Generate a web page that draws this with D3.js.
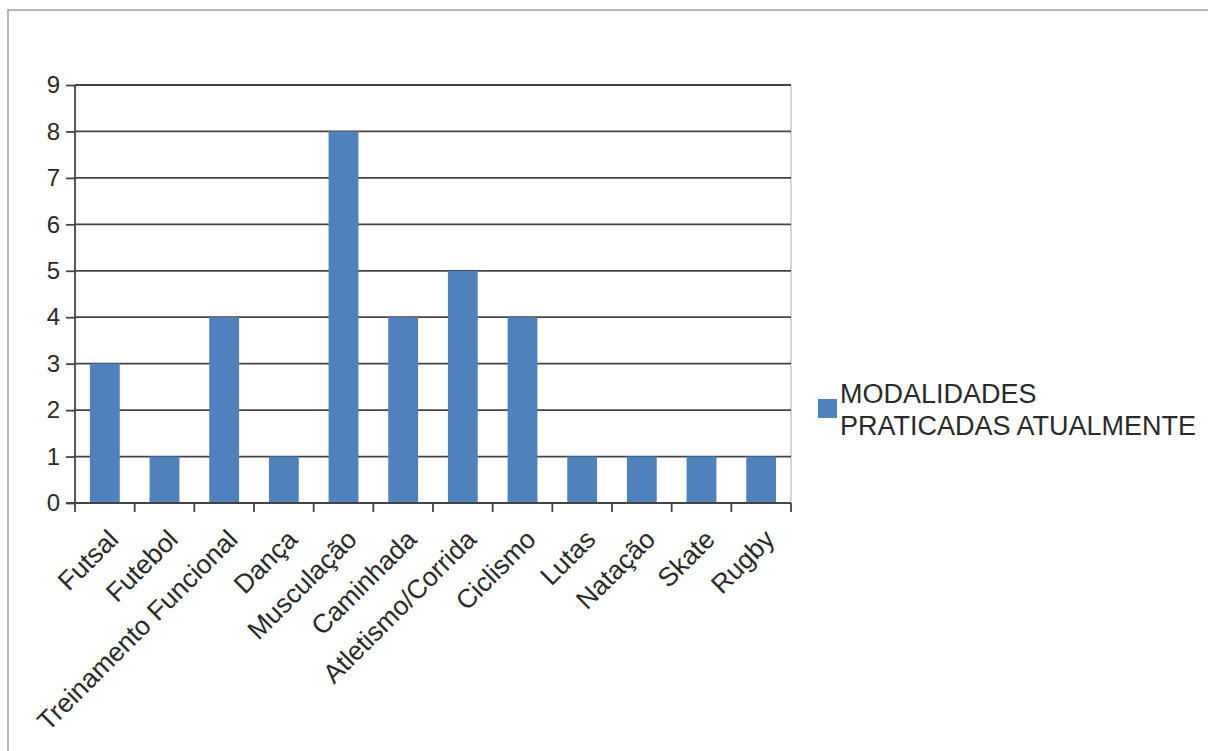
<!DOCTYPE html>
<html>
<head>
<meta charset="utf-8">
<script src="https://cdn.jsdelivr.net/npm/d3@7"></script>
<style>
  html, body { margin: 0; padding: 0; background: #fff; }
  svg { display: block; }
  text { font-family: "Liberation Sans", Arial, sans-serif; fill: #2a2a2a; }
</style>
</head>
<body>
<svg id="chart" width="1208" height="751"></svg>
<script>
const categories = ["Futsal", "Futebol", "Treinamento Funcional", "Dança", "Musculação", "Caminhada", "Atletismo/Corrida", "Ciclismo", "Lutas", "Natação", "Skate", "Rugby"];
const values = [3, 1, 4, 1, 8, 4, 5, 4, 1, 1, 1, 1];
const yTicks = [0, 1, 2, 3, 4, 5, 6, 7, 8, 9];
const seriesName = ["MODALIDADES", "PRATICADAS ATUALMENTE"];

const svg = d3.select("#chart");
const pL = 75, pR = 791, pT = 85, pB = 503;

// outer frame
svg.append("rect").attr("x", 8).attr("y", 10).attr("width", 1260).attr("height", 800)
  .attr("fill", "none").attr("stroke", "#a0a0a0").attr("stroke-width", 1.5);

const x = d3.scaleBand().domain(categories).range([pL, pR]).paddingInner(0.5).paddingOuter(0.25);
const y = d3.scaleLinear().domain([0, 9]).range([pB, pT]);
const xb = d3.scaleLinear().domain([0, categories.length]).range([pL, pR]);

// right plot border
svg.append("line").attr("x1", pR).attr("x2", pR).attr("y1", pT).attr("y2", pB)
  .attr("stroke", "#c8c8c8").attr("stroke-width", 1.5);

// gridlines
svg.append("g").selectAll("line").data(yTicks.filter(d => d > 0)).join("line")
  .attr("x1", pL).attr("x2", pR)
  .attr("y1", d => y(d)).attr("y2", d => y(d))
  .attr("stroke", "#444").attr("stroke-width", 1.8);

// bars
svg.append("g").selectAll("rect").data(categories).join("rect")
  .attr("x", d => x(d)).attr("width", x.bandwidth())
  .attr("y", (d, i) => y(values[i])).attr("height", (d, i) => y(0) - y(values[i]))
  .attr("fill", "#4f81bd");

// y axis
const yAxis = d3.axisLeft(y).tickValues(yTicks).tickSize(9).tickPadding(6).tickFormat(d3.format("d"));
const gy = svg.append("g").attr("transform", `translate(${pL},0)`).call(yAxis);
gy.select(".domain").attr("stroke", "#444").attr("stroke-width", 1.8).attr("d", `M0,${pT}V${pB}`);
gy.selectAll(".tick line").attr("stroke", "#444").attr("stroke-width", 1.8);
gy.selectAll(".tick text").attr("font-size", 24).attr("fill", "#2a2a2a")
  .attr("font-family", "'Liberation Sans', Arial, sans-serif");

// x axis baseline and boundary ticks
const gx = svg.append("g");
gx.append("line").attr("x1", pL - 9).attr("x2", pR).attr("y1", pB).attr("y2", pB)
  .attr("stroke", "#444").attr("stroke-width", 1.8);
gx.selectAll("line.tk").data(d3.range(categories.length + 1)).join("line").attr("class", "tk")
  .attr("x1", d => xb(d)).attr("x2", d => xb(d)).attr("y1", pB).attr("y2", pB + 9)
  .attr("stroke", "#444").attr("stroke-width", 1.8);

// x labels
gx.selectAll("text").data(categories).join("text")
  .attr("transform", d => `translate(${x(d) + x.bandwidth() / 2 + 15},541) rotate(-45)`)
  .attr("text-anchor", "end")
  .attr("font-size", 26.5)
  .text(d => d);

// legend
const lg = svg.append("g");
lg.append("rect").attr("x", 818).attr("y", 399).attr("width", 19).attr("height", 19).attr("fill", "#4f81bd");
lg.selectAll("text").data(seriesName).join("text")
  .attr("x", 840).attr("y", (d, i) => 403 + i * 31.5)
  .attr("font-size", 27)
  .text(d => d);
</script>
</body>
</html>
